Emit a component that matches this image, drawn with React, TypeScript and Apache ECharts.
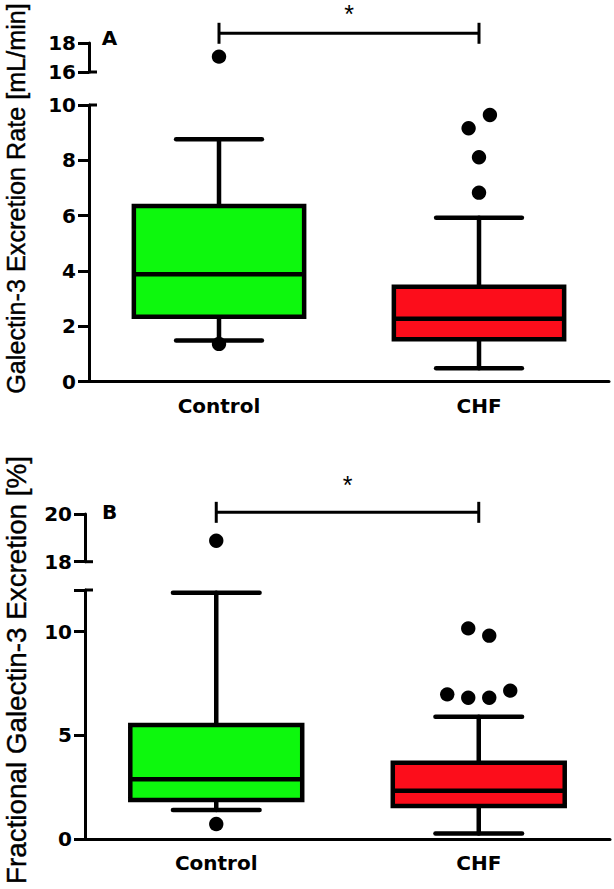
import React, { useEffect, useRef } from "react";
import * as echarts from "echarts";

const categories = ["Control", "CHF"];

// Panel A: Galectin-3 excretion rate [mL/min]  (min, q1, median, q3, max)
const rateBoxControl = [1.48, 2.34, 3.88, 6.35, 8.76];
const rateBoxCHF = [0.48, 1.53, 2.27, 3.43, 5.92];
const rateOutliersControl = [1.36, 17.06];
const rateOutliersCHF = [6.83, 8.11, 9.16, 9.64];
const rateJitterControl = [0, 0];
const rateJitterCHF = [0, 0, -0.04, 0.042];
const rateLowerAxis = [0, 10, 2]; // min, max, interval
const rateUpperAxis = [16, 18, 2];
const rateSigValue = 18.67;
const rateStarValue = 20.03;

// Panel B: Fractional Galectin-3 excretion [%]
const fracBoxControl = [1.4, 1.88, 2.88, 5.49, 11.87];
const fracBoxCHF = [0.27, 1.59, 2.33, 3.68, 5.89];
const fracOutliersControl = [0.72, 18.88];
const fracOutliersCHF = [6.97, 6.81, 6.81, 7.15, 10.15, 9.8];
const fracJitterControl = [0, 0];
const fracJitterCHF = [-0.12, -0.04, 0.04, 0.12, -0.04, 0.04];
const fracLowerAxis = [0, 12, 5];
const fracUpperAxis = [18, 20, 2];
const fracSigValue = 20.07;
const fracStarValue = 21.22;

const FONT = "'Liberation Sans', Arial, Helvetica, sans-serif";
const BOLDFONT = "'DejaVu Sans', 'Liberation Sans', Arial, sans-serif";
const boxColors = ["#0df80d", "#fc0d1b"];

const panels = [
  {
    label: "A",
    title: "Galectin-3 Excretion Rate [mL/min]",
    boxes: [rateBoxControl, rateBoxCHF],
    outliers: [rateOutliersControl, rateOutliersCHF],
    jitter: [rateJitterControl, rateJitterCHF],
    lower: rateLowerAxis,
    upper: rateUpperAxis,
    sig: rateSigValue,
    star: rateStarValue,
    layout: { left: 89, width: 520, upperTop: 43, upperHeight: 29, lowerTop: 105, lowerHeight: 276.5, titleX: 15.5, titleY: 198.5, titleSize: 25.2, labelX: 109.5, labelY: 38 },
  },
  {
    label: "B",
    title: "Fractional Galectin-3 Excretion [%]",
    boxes: [fracBoxControl, fracBoxCHF],
    outliers: [fracOutliersControl, fracOutliersCHF],
    jitter: [fracJitterControl, fracJitterCHF],
    lower: fracLowerAxis,
    upper: fracUpperAxis,
    sig: fracSigValue,
    star: fracStarValue,
    layout: { left: 85, width: 525, upperTop: 514, upperHeight: 47.7, lowerTop: 590, lowerHeight: 249, titleX: 16, titleY: 670, titleSize: 27.8, labelX: 109.5, labelY: 511.5 },
  },
];

export default function App() {
  const ref = useRef<HTMLDivElement>(null);

  useEffect(() => {
    const chart = echarts.init(ref.current!, null, { renderer: "svg" });

    const grid: any[] = [];
    const xAxis: any[] = [];
    const yAxis: any[] = [];
    const series: any[] = [];

    const yAxisBase = (gridIndex: number, ax: number[]) => ({
      type: "value",
      gridIndex,
      min: ax[0],
      max: ax[1],
      interval: ax[2],
      splitLine: { show: false },
      axisLine: { show: true, lineStyle: { color: "#000", width: 3 } },
      axisTick: { show: true, length: 11, lineStyle: { color: "#000", width: 3 } },
      axisLabel: {
        color: "#000",
        fontSize: 20,
        fontWeight: "bold",
        fontFamily: BOLDFONT,
        margin: 13,
        formatter: (v: number) => (Math.abs(v / ax[2] - Math.round(v / ax[2])) < 1e-6 ? String(v) : ""),
      },
    });

    const boxRender = (params: any, api: any) => {
      const cat = api.value(0);
      const mn = api.value(1), q1 = api.value(2), md = api.value(3), q3 = api.value(4), mx = api.value(5);
      const band = api.size([1, 0])[0];
      const bw = band * 0.655;
      const cw = band * 0.33;
      const cx = api.coord([cat, md])[0];
      const y = (v: number) => api.coord([cat, v])[1];
      const ls = { stroke: "#000", lineWidth: 4.5, lineCap: "round" };
      return {
        type: "group",
        children: [
          { type: "line", shape: { x1: cx, y1: y(mx), x2: cx, y2: y(q3) }, style: ls },
          { type: "line", shape: { x1: cx, y1: y(q1), x2: cx, y2: y(mn) }, style: ls },
          { type: "line", shape: { x1: cx - cw / 2, y1: y(mx), x2: cx + cw / 2, y2: y(mx) }, style: ls },
          { type: "line", shape: { x1: cx - cw / 2, y1: y(mn), x2: cx + cw / 2, y2: y(mn) }, style: ls },
          {
            type: "rect",
            shape: { x: cx - bw / 2, y: y(q3), width: bw, height: y(q1) - y(q3) },
            style: { fill: boxColors[cat], stroke: "#000", lineWidth: 4.5 },
          },
          { type: "line", shape: { x1: cx - bw / 2, y1: y(md), x2: cx + bw / 2, y2: y(md) }, style: { stroke: "#000", lineWidth: 4.5 } },
        ],
      };
    };

    const outlierRender = (params: any, api: any) => {
      const p = api.coord([api.value(0), api.value(1)]);
      const band = api.size([1, 0])[0];
      return {
        type: "circle",
        shape: { cx: p[0] + api.value(2) * band, cy: p[1], r: 7.2 },
        style: { fill: "#000" },
      };
    };

    const sigRender = (params: any, api: any) => {
      const a = api.coord([api.value(0), api.value(2)]);
      const b = api.coord([api.value(1), api.value(2)]);
      const s = api.coord([(api.value(0) + api.value(1)) / 2, api.value(3)]);
      const ls = { stroke: "#000", lineWidth: 3 };
      const sx = (a[0] + b[0]) / 2;
      return {
        type: "group",
        children: [
          { type: "line", shape: { x1: a[0], y1: a[1], x2: b[0], y2: b[1] }, style: ls },
          { type: "line", shape: { x1: a[0], y1: a[1] - 10.5, x2: a[0], y2: a[1] + 10.5 }, style: ls },
          { type: "line", shape: { x1: b[0], y1: b[1] - 10.5, x2: b[0], y2: b[1] + 10.5 }, style: ls },
          {
            type: "text",
            style: { text: "*", x: sx, y: s[1], fontSize: 25, lineHeight: 22, fontFamily: FONT, fill: "#000", align: "center", verticalAlign: "middle" },
          },
        ],
      };
    };

    panels.forEach((p, pi) => {
      const L = p.layout;
      const gu = pi * 2;
      const gl = pi * 2 + 1;
      grid.push({ left: L.left, top: L.upperTop, width: L.width, height: L.upperHeight });
      grid.push({ left: L.left, top: L.lowerTop, width: L.width, height: L.lowerHeight });
      xAxis.push({ type: "category", gridIndex: gu, data: categories, show: false });
      xAxis.push({
        type: "category",
        gridIndex: gl,
        data: categories,
        axisLine: { lineStyle: { color: "#000", width: 3 } },
        axisTick: { alignWithLabel: true, length: 8, lineStyle: { color: "#000", width: 2.5 } },
        axisLabel: { color: "#000", fontSize: 20, fontWeight: "bold", fontFamily: BOLDFONT, margin: 14 },
      });
      yAxis.push(yAxisBase(gu, p.upper));
      yAxis.push(yAxisBase(gl, p.lower));

      series.push({
        type: "custom",
        xAxisIndex: gl,
        yAxisIndex: gl,
        renderItem: boxRender,
        encode: { x: 0, y: [1, 2, 3, 4, 5] },
        data: p.boxes.map((b, ci) => [ci, ...b]),
        clip: false,
        z: 2,
      });

      const lowPts: any[] = [];
      const upPts: any[] = [];
      p.outliers.forEach((vals, ci) => {
        vals.forEach((v, k) => {
          const item = [ci, v, p.jitter[ci][k]];
          if (v > p.lower[1]) upPts.push(item);
          else lowPts.push(item);
        });
      });
      series.push({
        type: "custom",
        xAxisIndex: gl,
        yAxisIndex: gl,
        renderItem: outlierRender,
        encode: { x: 0, y: 1 },
        data: lowPts,
        clip: false,
        z: 3,
      });
      series.push({
        type: "custom",
        xAxisIndex: gu,
        yAxisIndex: gu,
        renderItem: outlierRender,
        encode: { x: 0, y: 1 },
        data: upPts,
        clip: false,
        z: 3,
      });
      series.push({
        type: "custom",
        xAxisIndex: gu,
        yAxisIndex: gu,
        renderItem: sigRender,
        encode: { x: [0, 1], y: [2, 3] },
        data: [[0, 1, p.sig, p.star]],
        clip: false,
        z: 3,
      });
    });

    chart.setOption({
      animation: false,
      backgroundColor: "#fff",
      textStyle: { fontFamily: FONT },
      grid,
      xAxis,
      yAxis,
      series,
    });

    const graphic: any[] = [];
    panels.forEach((p, pi) => {
      const L = p.layout;
      const gu = pi * 2;
      const gl = pi * 2 + 1;
      const yUpMin = chart.convertToPixel({ yAxisIndex: gu }, p.upper[0]) as number;
      const yLowMax = chart.convertToPixel({ yAxisIndex: gl }, p.lower[1]) as number;
      graphic.push({ type: "line", shape: { x1: L.left, y1: yUpMin, x2: L.left + 8, y2: yUpMin }, style: { stroke: "#000", lineWidth: 3 } });
      graphic.push({ type: "line", shape: { x1: L.left, y1: yLowMax, x2: L.left + 8, y2: yLowMax }, style: { stroke: "#000", lineWidth: 3 } });
      graphic.push({
        type: "text",
        x: L.titleX,
        y: L.titleY,
        rotation: Math.PI / 2,
        style: { text: p.title, fontSize: L.titleSize, fontFamily: FONT, fill: "#000", align: "center", verticalAlign: "middle", stroke: "#000", lineWidth: 0.4 },
      });
      graphic.push({
        type: "text",
        x: L.labelX,
        y: L.labelY,
        style: { text: p.label, fontSize: 20, fontWeight: "bold", fontFamily: BOLDFONT, fill: "#000", align: "center", verticalAlign: "middle" },
      });
    });
    chart.setOption({ graphic });

    return () => chart.dispose();
  }, []);

  return <div ref={ref} style={{ position: "absolute", left: 0, top: 0, width: 614, height: 889, background: "#fff" }} />;
}
